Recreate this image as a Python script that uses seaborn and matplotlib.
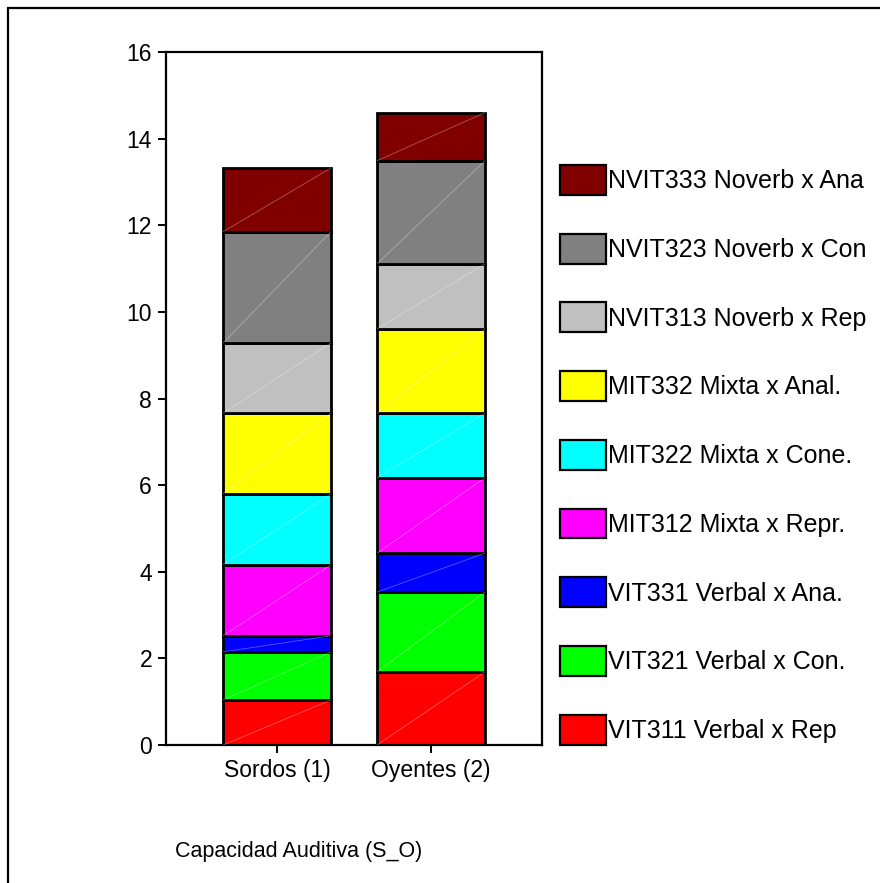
import matplotlib
matplotlib.use("Agg")
import matplotlib.pyplot as plt
import seaborn as sns
from matplotlib.patches import Patch, Rectangle

# Data (segment heights, bottom to top)
groups = ["Sordos (1)", "Oyentes (2)"]
tests = [
    "VIT311 Verbal x Rep",
    "VIT321 Verbal x Con.",
    "VIT331 Verbal x Ana.",
    "MIT312 Mixta x Repr.",
    "MIT322 Mixta x Cone.",
    "MIT332 Mixta x Anal.",
    "NVIT313 Noverb x Rep",
    "NVIT323 Noverb x Con",
    "NVIT333 Noverb x Ana",
]
sordos = [1.04, 1.11, 0.37, 1.64, 1.64, 1.86, 1.62, 2.57, 1.47]
oyentes = [1.69, 1.84, 0.90, 1.74, 1.49, 1.95, 1.50, 2.38, 1.11]
colors = ["#ff0000", "#00ff00", "#0000ff", "#ff00ff", "#00ffff",
          "#ffff00", "#c0c0c0", "#808080", "#800000"]
y_ticks = [0, 2, 4, 6, 8, 10, 12, 14, 16]

sns.set_style("white")
plt.rcParams["font.family"] = ["Liberation Sans", "DejaVu Sans"]
plt.rcParams["text.color"] = "black"
plt.rcParams["xtick.color"] = "black"
plt.rcParams["ytick.color"] = "black"

fig = plt.figure(figsize=(8.8, 8.83), dpi=100)
ax = fig.add_axes([166 / 880, 1 - 745 / 883, (542 - 166) / 880, (745 - 52) / 883])

bottom = [0.0, 0.0]
for i, name in enumerate(tests):
    vals = [sordos[i], oyentes[i]]
    sns.barplot(x=groups, y=vals, bottom=bottom, color=colors[i], saturation=1,
                width=0.7, edgecolor="black", linewidth=2, errorbar=None, ax=ax)
    bottom = [bottom[0] + vals[0], bottom[1] + vals[1]]

# faint diagonal line inside each segment, like the original renderer
for p in ax.patches:
    x0, y0 = p.get_x(), p.get_y()
    ax.plot([x0, x0 + p.get_width()], [y0, y0 + p.get_height()],
            color="white", alpha=0.35, lw=0.6, zorder=3)

ax.set_xlim(-0.72, 1.72)
ax.set_ylim(0, 16)
ax.set_yticks(y_ticks)
ax.set_xlabel("")
ax.set_ylabel("")
for s in ax.spines.values():
    s.set_linewidth(1.6)
    s.set_color("black")
ax.tick_params(axis="both", direction="out", length=6, width=1.4, colors="black",
               labelsize=16.5, pad=4, left=True, bottom=True)

# legend, top entry first
handles = [Patch(facecolor=colors[i], edgecolor="black", linewidth=1.6)
           for i in range(len(tests))][::-1]
fig.legend(handles, tests[::-1], loc="upper left",
           bbox_to_anchor=(560 / 880, 1 - 165 / 883), frameon=False,
           fontsize=18, handlelength=1.84, handleheight=1.46, handletextpad=0.08,
           labelspacing=1.555, borderpad=0, borderaxespad=0)

fig.text(175 / 880, 1 - 852 / 883, "Capacidad Auditiva (S_O)", fontsize=15.5,
         va="center", ha="left")

# outer frame, clipped by the image edges on the right and bottom
fig.patches.append(Rectangle((8 / 880, -0.1), 1.2, 1 - 8 / 883 + 0.1,
                             transform=fig.transFigure, fill=False,
                             edgecolor="black", linewidth=1.6))

fig.savefig("out.png", dpi=100)
